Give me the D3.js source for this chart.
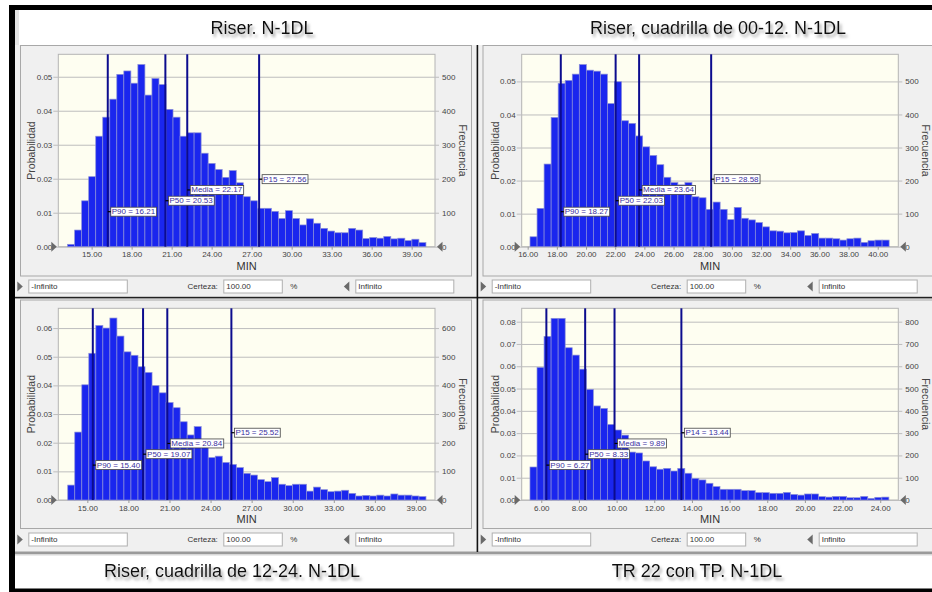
<!DOCTYPE html>
<html><head><meta charset="utf-8">
<script src="https://cdn.jsdelivr.net/npm/d3@7"></script>
<style>body{margin:0;background:#fff}svg{display:block}text{font-family:"Liberation Sans",Arial,sans-serif}</style>
</head><body><svg id="c" width="932" height="592"></svg>
<script>
// ---------------- DATA ----------------
const titles = ["Riser. N-1DL", "Riser, cuadrilla de 00-12. N-1DL", "Riser, cuadrilla de 12-24. N-1DL", "TR 22 con TP. N-1DL"];
const xDomains = [[12.5, 40.75], [15.59, 41.41], [12.88, 40.39], [4.96, 24.96]];
const yMax = [0.0566, 0.0582, 0.0669, 0.086];
const binStarts = [13.2, 16.16, 13.57, 5.40];
const binEnds = [40.07, 40.78, 39.73, 24.46];
const probRiser = [0.0007,0.0049,0.0135,0.0206,0.0325,0.0381,0.0434,0.0507,0.0517,0.0481,0.0536,0.0446,0.0495,0.0477,0.0404,0.0381,0.0325,0.0335,0.0335,0.0275,0.0245,0.0227,0.0204,0.0224,0.0188,0.0147,0.0135,0.0113,0.0113,0.0104,0.0083,0.0106,0.0083,0.0064,0.0082,0.0069,0.0054,0.0046,0.0041,0.0041,0.0054,0.0049,0.0024,0.0027,0.0025,0.0030,0.0023,0.0025,0.0018,0.0022,0.0012];
const probRiser0012 = [0.0030,0.0116,0.0250,0.0391,0.0494,0.0503,0.0522,0.0551,0.0534,0.0531,0.0522,0.0433,0.0499,0.0381,0.0373,0.0335,0.0302,0.0276,0.0248,0.0210,0.0194,0.0187,0.0194,0.0151,0.0148,0.0113,0.0135,0.0113,0.0082,0.0119,0.0086,0.0081,0.0073,0.0060,0.0048,0.0047,0.0042,0.0043,0.0048,0.0034,0.0040,0.0026,0.0026,0.0024,0.0020,0.0024,0.0026,0.0013,0.0018,0.0020,0.0020];
const probRiser1224 = [0.0052,0.0237,0.0402,0.0512,0.0609,0.0600,0.0635,0.0572,0.0517,0.0505,0.0465,0.0445,0.0399,0.0374,0.0340,0.0322,0.0273,0.0227,0.0256,0.0198,0.0148,0.0153,0.0131,0.0124,0.0113,0.0093,0.0087,0.0071,0.0064,0.0078,0.0055,0.0050,0.0055,0.0055,0.0031,0.0045,0.0036,0.0029,0.0031,0.0034,0.0023,0.0014,0.0016,0.0014,0.0017,0.0014,0.0021,0.0017,0.0017,0.0014,0.0012];
const probTR22 = [0.0148,0.0595,0.0734,0.0815,0.0815,0.0683,0.0650,0.0587,0.0496,0.0422,0.0411,0.0339,0.0314,0.0291,0.0215,0.0211,0.0175,0.0149,0.0138,0.0142,0.0130,0.0142,0.0120,0.0097,0.0090,0.0075,0.0060,0.0048,0.0048,0.0048,0.0042,0.0042,0.0033,0.0033,0.0030,0.0030,0.0034,0.0025,0.0022,0.0027,0.0027,0.0015,0.0013,0.0016,0.0016,0.0010,0.0010,0.0016,0.0007,0.0012,0.0013];
const series = [probRiser, probRiser0012, probRiser1224, probTR22];
const markerNames = [["P90","P50","Media","P15"],["P90","P50","Media","P15"],["P90","P50","Media","P15"],["P90","P50","Media","P14"]];
const markerValues = [[16.21,20.53,22.17,27.56],[18.27,22.03,23.64,28.58],[15.40,19.07,20.84,25.52],[6.27,8.33,9.89,13.44]];
const xTicks = [[15,18,21,24,27,30,33,36,39],[16,18,20,22,24,26,28,30,32,34,36,38,40],[15,18,21,24,27,30,33,36,39],[6,8,10,12,14,16,18,20,22,24]];
const yTicks = [[0,0.01,0.02,0.03,0.04,0.05],[0,0.01,0.02,0.03,0.04,0.05],[0,0.01,0.02,0.03,0.04,0.05,0.06],[0,0.01,0.02,0.03,0.04,0.05,0.06,0.07,0.08]];
const trials = 10000;
const controlTexts = ["-Infinito", "Certeza:", "100.00", "%", "Infinito"];

// ---------------- LAYOUT ----------------
const geo = [
  {fx:20.5, fy:45.5, fw:451, fh:230.5, px:58.3, py:54.3, pw:376.7, ph:192.4, cy:280, tx:262, ty:34},
  {fx:483, fy:45.5, fw:470, fh:230.5, px:521.7, py:54.3, pw:376.6, ph:192.4, cy:280, tx:718, ty:34},
  {fx:20.5, fy:300, fw:451, fh:228.5, px:58.3, py:308.3, pw:376.7, ph:191.7, cy:533, tx:232, ty:577},
  {fx:483, fy:300, fw:470, fh:228.5, px:521.7, py:308.3, pw:376.6, ph:191.7, cy:533, tx:697, ty:577}
];
const labelFrac = [0.182, 0.239, 0.295, 0.351];

const svg = d3.select("#c");
const defs = svg.append("defs");
const f = defs.append("filter").attr("id","sh").attr("x","-10%").attr("y","-30%").attr("width","120%").attr("height","180%");
f.append("feDropShadow").attr("dx",2).attr("dy",3).attr("stdDeviation",1.6).attr("flood-color","#777").attr("flood-opacity",0.7);

svg.append("rect").attr("width",932).attr("height",592).attr("fill","#fff");
// gray body
svg.append("rect").attr("x",15).attr("y",45).attr("width",917).attr("height",507).attr("fill","#f0f0f0");
// shadow under body
svg.append("rect").attr("x",15).attr("y",551.5).attr("width",917).attr("height",2.5).attr("fill","#9a9a9a");
svg.append("rect").attr("x",15).attr("y",554).attr("width",917).attr("height",1.5).attr("fill","#d8d8d8");
// left shadow in top title area
svg.append("rect").attr("x",15).attr("y",10).attr("width",4).attr("height",35).attr("fill","#e4e4e4");
// black borders
svg.append("rect").attr("x",9).attr("y",5).attr("width",923).attr("height",5).attr("fill","#000");
svg.append("rect").attr("x",9).attr("y",5).attr("width",6).attr("height",587).attr("fill","#000");
svg.append("rect").attr("x",9).attr("y",588.5).attr("width",923).attr("height",3.5).attr("fill","#000");
// dividers
svg.append("rect").attr("x",15).attr("y",296.8).attr("width",917).attr("height",1.6).attr("fill","#222");
svg.append("rect").attr("x",476.6).attr("y",45).attr("width",1.6).attr("height",507).attr("fill","#111");

geo.forEach((g, i) => {
  const G = svg.append("g");
  const vals = series[i];
  const x = d3.scaleLinear().domain(xDomains[i]).range([g.px, g.px + g.pw]);
  const y = d3.scaleLinear().domain([0, yMax[i]]).range([g.py + g.ph, g.py]);
  const yF = d3.scaleLinear().domain([0, yMax[i] * trials]).range([g.py + g.ph, g.py]);

  // frame
  G.append("rect").attr("x",g.fx).attr("y",g.fy).attr("width",g.fw).attr("height",g.fh)
    .attr("fill","#f0f0f0").attr("stroke","#a8a8a8").attr("stroke-width",1);
  // plot area
  G.append("rect").attr("x",g.px).attr("y",g.py).attr("width",g.pw).attr("height",g.ph)
    .attr("fill","#fefef1").attr("stroke","#b4b4b4").attr("stroke-width",1);

  // gridlines (left axis)
  const yAx = d3.axisLeft(y).tickValues(yTicks[i]).tickFormat(d3.format(".2f"))
    .tickSize(-(g.pw + 9)).tickPadding(3);
  const ya = G.append("g").attr("transform",`translate(${g.px - 5},0)`).call(yAx);
  ya.select(".domain").remove();
  ya.selectAll("line").attr("stroke","#bdbdbd");
  ya.selectAll("text").attr("font-size",8).attr("fill","#444").attr("x",-1);

  const fAx = d3.axisRight(yF).tickValues(yTicks[i].map(v => Math.round(v * trials))).tickFormat(d3.format("d")).tickSize(0).tickPadding(0);
  const fa = G.append("g").attr("transform",`translate(${g.px + g.pw + 7},0)`).call(fAx);
  fa.select(".domain").remove();
  fa.selectAll("text").attr("font-size",8).attr("fill","#444");

  // bars
  const n = vals.length;
  const bw = (binEnds[i] - binStarts[i]) / n;
  G.append("g").selectAll("rect").data(vals).join("rect")
    .attr("x", (d, k) => x(binStarts[i] + k * bw))
    .attr("width", (d, k) => x(binStarts[i] + (k + 1) * bw) - x(binStarts[i] + k * bw))
    .attr("y", d => y(d))
    .attr("height", d => y(0) - y(d))
    .attr("fill","#1a26ee").attr("stroke","#8a8ed8").attr("stroke-width",0.7);

  // x axis
  const xAx = d3.axisBottom(x).tickValues(xTicks[i]).tickFormat(d3.format(".2f")).tickSize(3).tickPadding(2);
  const xa = G.append("g").attr("transform",`translate(0,${g.py + g.ph})`).call(xAx);
  xa.select(".domain").remove();
  xa.selectAll("line").attr("stroke","#999");
  xa.selectAll("text").attr("font-size",8).attr("fill","#444");

  // zero triangles
  const y0 = y(0);
  G.append("path").attr("d",`M${g.px-7},${y0-5}L${g.px-1.5},${y0}L${g.px-7},${y0+5}Z`).attr("fill","#6a6a6a");
  G.append("path").attr("d",`M${g.px+g.pw+7.5},${y0-5}L${g.px+g.pw+2},${y0}L${g.px+g.pw+7.5},${y0+5}Z`).attr("fill","#6a6a6a");

  // axis titles
  G.append("text").attr("transform",`translate(${g.px - 27},${g.py + g.ph/2}) rotate(-90)`)
    .attr("text-anchor","middle").attr("dominant-baseline","central").attr("font-size",10.5).attr("fill","#444").text("Probabilidad");
  G.append("text").attr("transform",`translate(${g.px + g.pw + 28},${g.py + g.ph/2}) rotate(90)`)
    .attr("text-anchor","middle").attr("dominant-baseline","central").attr("font-size",10.5).attr("fill","#444").text("Frecuencia");
  G.append("text").attr("x",g.px + g.pw/2).attr("y",g.py + g.ph + 19).attr("text-anchor","middle")
    .attr("dominant-baseline","central").attr("font-size",11).attr("fill","#333").text("MIN");

  // marker lines + labels
  markerValues[i].forEach((v, k) => {
    const lx = x(v);
    G.append("line").attr("x1",lx).attr("x2",lx).attr("y1",g.py).attr("y2",g.py + g.ph)
      .attr("stroke","#0c0c8e").attr("stroke-width",2);
  });
  markerValues[i].forEach((v, k) => {
    const lx = x(v);
    const ly = g.py + g.ph * (1 - labelFrac[k]);
    const lg = G.append("g");
    const r = lg.append("rect").attr("fill","#fff").attr("stroke","#444").attr("stroke-width",0.8);
    const t = lg.append("text").attr("x",lx + 4).attr("y",ly).attr("dominant-baseline","central")
      .attr("font-size",8).attr("fill","#3b2f9e").text(`${markerNames[i][k]} = ${v.toFixed(2)}`);
    const w = t.node().getComputedTextLength();
    r.attr("x",lx + 3).attr("y",ly - 4.5).attr("width",w + 2.5).attr("height",9);
    lg.append("line").attr("x1",lx).attr("x2",lx + 3).attr("y1",ly).attr("y2",ly).attr("stroke","#000").attr("stroke-width",1.2);
  });

  // controls row
  const cy = g.cy, ch = 13, cm = cy + ch/2;
  const C = G.append("g");
  C.append("path").attr("d",`M${g.px-41},${cm-5}L${g.px-35.5},${cm}L${g.px-41},${cm+5}Z`).attr("fill","#6a6a6a");
  C.append("rect").attr("x",g.px-29.5).attr("y",cy).attr("width",98.5).attr("height",ch).attr("fill","#fff").attr("stroke","#b0b0b0");
  C.append("text").attr("x",g.px-27).attr("y",cm).attr("dominant-baseline","central").attr("font-size",8).attr("fill","#333").text(controlTexts[0]);
  C.append("text").attr("x",g.px+159.5).attr("y",cm).attr("text-anchor","end").attr("dominant-baseline","central").attr("font-size",8).attr("fill","#333").text(controlTexts[1]);
  C.append("rect").attr("x",g.px+165.5).attr("y",cy).attr("width",58.5).attr("height",ch).attr("fill","#fff").attr("stroke","#b0b0b0");
  C.append("text").attr("x",g.px+168).attr("y",cm).attr("dominant-baseline","central").attr("font-size",8).attr("fill","#333").text(controlTexts[2]);
  C.append("text").attr("x",g.px+232).attr("y",cm).attr("dominant-baseline","central").attr("font-size",8).attr("fill","#333").text(controlTexts[3]);
  C.append("path").attr("d",`M${g.px+291},${cm-5}L${g.px+285.5},${cm}L${g.px+291},${cm+5}Z`).attr("fill","#6a6a6a");
  C.append("rect").attr("x",g.px+297.5).attr("y",cy).attr("width",98).attr("height",ch).attr("fill","#fff").attr("stroke","#b0b0b0");
  C.append("text").attr("x",g.px+300).attr("y",cm).attr("dominant-baseline","central").attr("font-size",8).attr("fill","#333").text(controlTexts[4]);

  // title
  svg.append("text").attr("x",g.tx).attr("y",g.ty).attr("text-anchor","middle").attr("font-size",18)
    .attr("fill","#111").attr("filter","url(#sh)").text(titles[i]);
});
</script></body></html>
